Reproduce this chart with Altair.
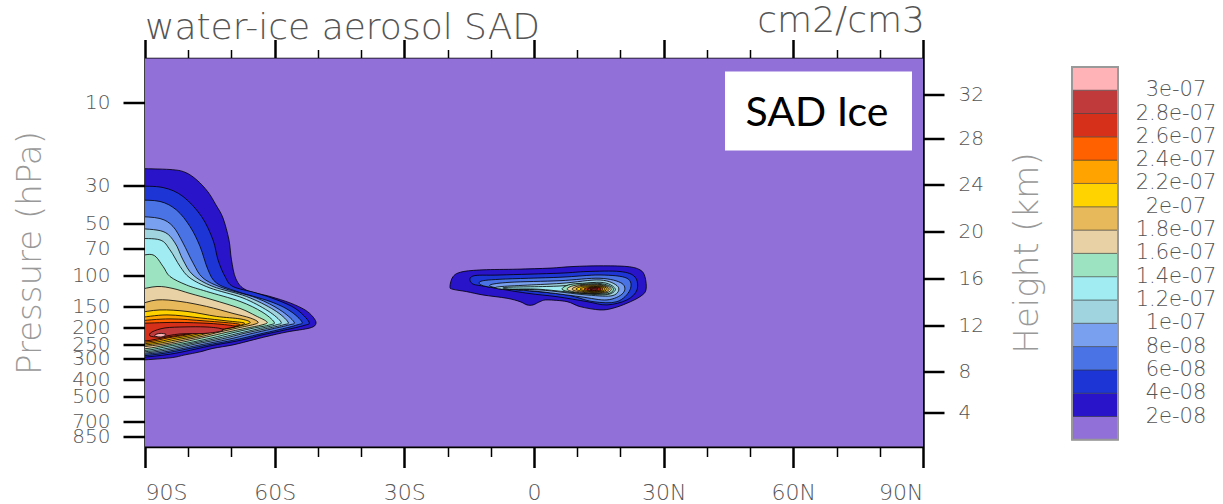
import altair as alt
import pandas as pd

FONT = "DejaVu Sans"
W, H = 778, 388

LAT_TICKS = [-90, -60, -30, 0, 30, 60, 90]
LAT_MINOR = [-80, -70, -50, -40, -20, -10, 10, 20, 40, 50, 70, 80]
P_TICKS = [10, 30, 50, 70, 100, 150, 200, 250, 300, 400, 500, 700, 850]
HEIGHT_KM = [4, 8, 12, 16, 20, 24, 28, 32]
HEIGHT_P = [616.4, 356.5, 194.0, 103.5, 55.29, 29.72, 16.16, 8.89]

LEVEL_LABELS = ["2e-08", "4e-08", "6e-08", "8e-08", "1e-07", "1.2e-07", "1.4e-07",
                "1.6e-07", "1.8e-07", "2e-07", "2.2e-07", "2.4e-07", "2.6e-07",
                "2.8e-07", "3e-07"]
COLORS = ["#9170d8", "#2a14c9", "#1e35d5", "#4a74e6", "#78a0ee", "#a0d5e0", "#a0ecf2",
          "#9be3c1", "#e8d2a5", "#e8b95a", "#ffd300", "#ffa300", "#ff6000", "#d7301a",
          "#c0393b", "#ffb3b6"]

# contour polygons (latitude, pressure hPa) of the south-polar cloud, level 1..15
S1 = [(-95, 24.0), (-92, 24.0), (-84.22, 24.3), (-80.75, 25.2), (-77.97, 28.0), (-75.42, 32.8),
      (-73.57, 39.0), (-71.95, 46.4), (-70.57, 62.1), (-69.99, 81.0), (-68.95, 104.5),
      (-66.63, 120.9), (-61.08, 131.9), (-56.45, 143.7), (-52.98, 157.8), (-51.13, 173.2),
      (-50.44, 188.9), (-51.82, 200.6), (-57.15, 211.6), (-61.77, 224.5), (-65.01, 235.2),
      (-69.64, 251.4), (-74.27, 263.4), (-77.27, 275.9), (-80.75, 287.2), (-84.22, 298.9),
      (-92, 309.0), (-95, 309.0)]
S2 = [(-95, 30.3), (-92, 30.3), (-85.84, 30.9), (-81.21, 34.8), (-76.93, 45.4), (-74.27, 62.1),
      (-73.11, 81.0), (-71.49, 101.1), (-69.64, 115.5), (-64.32, 125.8), (-59.46, 138.1),
      (-55.06, 155.7), (-52.06, 185.2), (-53.21, 194.0), (-57.61, 206.0), (-62.93, 220.1),
      (-68.02, 236.8), (-74.96, 254.8), (-80.75, 274.1), (-85.37, 287.2), (-92, 298.9),
      (-95, 298.9)]
S3 = [(-95, 36.5), (-92, 36.5), (-86.53, 37.2), (-82.71, 41.7), (-79.59, 51.9), (-77.27, 67.7),
      (-75.42, 92.5), (-73.46, 110.2), (-68.83, 123.3), (-61.08, 140.9), (-56.45, 159.9),
      (-53.68, 185.2), (-54.83, 192.7), (-58.77, 204.6), (-63.86, 218.7), (-69.18, 235.2),
      (-76.12, 253.1), (-81.90, 270.5), (-86.53, 283.4), (-92, 293.0), (-95, 293.0)]
S4 = [(-95, 45.4), (-92, 45.4), (-86.53, 46.7), (-83.52, 51.9), (-81.21, 64.6), (-78.89, 84.3),
      (-76.58, 103.1), (-71.95, 117.8), (-64.20, 134.6), (-58.77, 157.8), (-55.53, 185.2),
      (-56.68, 192.7), (-60.62, 203.2), (-65.71, 217.3), (-70.80, 233.7), (-77.27, 251.4),
      (-82.37, 266.9), (-86.99, 279.6), (-92, 287.2), (-95, 287.2)]
S5 = [(-95, 53.3), (-92, 53.3), (-85.84, 55.5), (-83.06, 64.6), (-81.21, 81.0), (-78.89, 99.1),
      (-74.27, 115.5), (-66.52, 131.9), (-60.15, 157.8), (-56.92, 185.2), (-58.07, 192.7),
      (-62.24, 203.2), (-67.10, 215.8), (-72.19, 232.1), (-78.20, 248.1), (-83.06, 263.4),
      (-87.69, 275.9), (-92, 283.4), (-95, 283.4)]
S6 = [(-95, 60.9), (-92, 60.9), (-86.53, 62.1), (-84.22, 70.9), (-81.90, 88.3), (-79.59, 103.1),
      (-74.96, 117.8), (-67.33, 134.6), (-61.54, 159.9), (-58.54, 185.2), (-59.69, 192.7),
      (-63.86, 203.2), (-68.48, 215.8), (-73.34, 230.6), (-79.13, 246.4), (-83.75, 259.9),
      (-88.15, 272.3), (-92, 277.8), (-95, 277.8)]
S7 = [(-95, 77.3), (-92, 77.3), (-88.15, 75.8), (-85.84, 88.3), (-84.22, 101.1), (-80.40, 113.2),
      (-75.77, 123.3), (-68.02, 140.9), (-62.93, 162.1), (-60.15, 185.2), (-61.08, 192.7),
      (-65.24, 201.9), (-69.87, 214.4), (-74.50, 229.1), (-80.05, 244.8), (-84.68, 256.5),
      (-88.84, 268.7), (-92, 272.3), (-95, 272.3)]
S8 = [(-95, 120.9), (-92, 120.9), (-87.22, 115.5), (-83.52, 118.6), (-79.59, 126.7),
      (-74.27, 138.1), (-68.02, 154.6), (-64.32, 170.9), (-61.77, 185.2), (-62.93, 192.7),
      (-66.86, 201.9), (-71.26, 213.0), (-75.66, 226.0), (-80.98, 241.5), (-85.37, 253.1),
      (-89.31, 263.4), (-92, 266.9), (-95, 266.9)]
S9 = [(-95, 147.6), (-92, 147.6), (-87.22, 138.1), (-81.90, 140.9), (-75.77, 150.6),
      (-69.64, 165.3), (-65.71, 175.5), (-63.86, 185.2), (-64.78, 191.4), (-68.48, 200.6),
      (-72.65, 211.6), (-76.81, 224.5), (-81.90, 238.4), (-86.07, 249.7), (-92, 259.9),
      (-95, 259.9)]
S10 = [(-95, 164.2), (-92, 164.2), (-86.53, 157.8), (-80.28, 161.0), (-73.46, 172.0),
       (-68.02, 177.8), (-65.71, 185.2), (-66.63, 191.4), (-70.10, 200.6), (-74.04, 210.2),
       (-77.97, 223.0), (-82.83, 235.2), (-86.99, 246.4), (-92, 254.8), (-95, 254.8)]
S11 = [(-95, 175.5), (-92, 175.5), (-84.91, 168.6), (-77.27, 175.5), (-71.03, 182.7),
       (-67.10, 187.6), (-68.02, 194.0), (-71.49, 201.9), (-75.42, 210.2), (-79.13, 221.6),
       (-83.75, 232.1), (-87.69, 243.2), (-92, 249.7), (-95, 249.7)]
S12 = [(-95, 182.7), (-92, 182.7), (-84.22, 177.8), (-76.12, 182.7), (-68.48, 190.2),
       (-69.41, 196.6), (-72.88, 203.2), (-76.81, 210.2), (-80.28, 220.1), (-84.68, 229.1),
       (-88.38, 239.9), (-92, 244.8), (-95, 244.8)]
S13 = [(-95, 188.9), (-92, 188.9), (-83.06, 186.4), (-74.96, 188.9), (-69.41, 195.3),
       (-70.33, 200.6), (-74.27, 207.4), (-77.97, 213.0), (-81.44, 220.1), (-85.37, 227.5),
       (-88.84, 236.8), (-92, 239.9), (-95, 239.9)]
S14 = [(-88.38, 211.6), (-85.37, 200.6), (-80.75, 197.9), (-76.12, 197.9), (-72.65, 201.9),
       (-72.19, 208.8), (-76.12, 215.8), (-81.90, 217.3), (-86.53, 226.0), (-88.84, 223.0)]
S15 = [(-87.69, 220.1), (-86.53, 215.8), (-85.14, 218.7), (-86.07, 226.0), (-87.45, 224.5)]

# contour polygons of the tropical tropopause cloud, level 1..14
T1 = [(-19.44, 115.8), (-18.74, 101.3), (-16.66, 95.0), (-11.80, 92.5), (-3.93, 91.7),
      (3.70, 90.4), (9.02, 88.5), (15.27, 87.7), (21.51, 88.5), (24.52, 92.5), (25.67, 101.3),
      (25.91, 120.9), (24.52, 132.3), (21.51, 144.3), (18.27, 154.2), (15.27, 157.8),
      (10.64, 151.0), (7.63, 141.3), (3.01, 138.1), (1.39, 141.3), (-0.23, 147.6),
      (-1.62, 147.6), (-3.24, 141.3), (-6.25, 135.1), (-11.80, 129.3), (-15.57, 123.7),
      (-18.74, 119.9)]
T2 = [(-14.11, 100.4), (-7.87, 99.1), (6.01, 96.7), (12.26, 94.6), (19.89, 94.6), (23.36, 101.7),
      (23.82, 120.9), (21.51, 138.1), (16.88, 147.6), (12.26, 141.3), (5.32, 132.3),
      (-1.62, 126.3), (-10.87, 115.8), (-14.34, 110.9)]
T3 = [(-12.49, 108.3), (-7.87, 104.9), (6.01, 102.1), (15.27, 99.1), (21.51, 103.5),
      (22.20, 120.9), (19.20, 141.3), (13.65, 141.3), (7.63, 129.3), (-1.62, 122.0),
      (-10.87, 115.8)]
T4 = [(-10.18, 113.2), (-5.55, 109.2), (6.01, 106.9), (15.27, 103.5), (20.36, 110.9),
      (20.59, 126.3), (16.88, 138.1), (10.64, 132.3), (1.39, 123.7), (-7.87, 118.4)]
T5 = [(-7.87, 115.8), (6.01, 110.9), (15.27, 105.9), (19.43, 115.8), (18.27, 130.2),
      (12.26, 129.3), (1.39, 120.9), (-7.17, 119.9)]
T6 = [(-6.25, 116.8), (6.01, 114.7), (15.27, 109.2), (18.74, 118.4), (17.35, 128.0),
      (12.96, 128.0), (1.39, 119.9), (-5.55, 119.4)]
T7 = [(6.48, 119.4), (9.02, 111.7), (15.27, 111.0), (18.27, 117.8), (17.35, 126.7),
      (13.42, 127.2), (9.02, 125.0)]
T8 = [(7.63, 119.4), (9.94, 113.2), (15.27, 112.4), (17.81, 118.3), (16.88, 125.3),
      (13.42, 126.7), (9.72, 124.7)]
T9 = [(8.79, 119.4), (10.87, 114.0), (15.27, 113.5), (17.35, 118.6), (16.43, 124.5),
      (13.42, 125.8), (10.41, 123.9)]
T10 = [(9.72, 119.4), (11.57, 115.0), (15.27, 114.7), (16.88, 118.9), (15.96, 123.7),
       (13.42, 124.8), (11.10, 123.0)]
T11 = [(10.64, 119.4), (12.26, 116.1), (15.27, 115.8), (16.43, 119.2), (15.73, 122.8),
       (13.42, 123.9), (11.80, 122.3)]
T12 = [(11.57, 119.4), (12.96, 117.0), (15.04, 116.7), (15.96, 119.4), (15.27, 122.2),
       (13.42, 122.8), (12.26, 121.5)]
T13 = [(12.26, 119.7), (13.42, 117.6), (14.81, 117.5), (15.50, 119.4), (14.81, 121.5),
       (13.19, 121.8)]
T14 = [(12.96, 119.7), (13.88, 118.3), (14.81, 119.1), (14.11, 120.9)]

SOUTH = [S1, S2, S3, S4, S5, S6, S7, S8, S9, S10, S11, S12, S13, S14, S15]
TROP = [T1, T2, T3, T4, T5, T6, T7, T8, T9, T10, T11, T12, T13, T14]

XS = alt.Scale(domain=[-90, 90], nice=False, zero=False)
YS = alt.Scale(type="log", domain=[5.536, 973.7], reverse=True, nice=False, zero=False)

one = pd.DataFrame({"a": [0]})
layers = [alt.Chart(one).mark_rect(color=COLORS[0]).encode(
    x=alt.value(0), x2=alt.value(W), y=alt.value(0), y2=alt.value(H))]

for k in range(1, 16):
    rows = []
    shapes = [("S", SOUTH[k - 1])]
    if k <= len(TROP):
        shapes.append(("T", TROP[k - 1]))
    for name, pts in shapes:
        for i, (la, pp) in enumerate(pts):
            rows.append({"shape": name, "i": i, "lat": la, "p": pp})
    df = pd.DataFrame(rows)
    layers.append(
        alt.Chart(df).mark_line(interpolate="cardinal-closed", fill=COLORS[k], stroke="#000",
                                strokeWidth=0.8, clip=True).encode(
            x=alt.X("lat:Q", scale=XS, axis=None),
            y=alt.Y("p:Q", scale=YS, axis=None),
            detail="shape:N",
            order="i:Q",
        )
    )

box = alt.Chart(one).mark_rect(fill="white").encode(
    x=alt.value(580), x2=alt.value(767), y=alt.value(13), y2=alt.value(92))
boxtext = alt.Chart(one).mark_text(text="SAD Ice", font="Lato", fontSize=41, color="black",
                                   align="center", baseline="middle").encode(
    x=alt.value(672), y=alt.value(55))
title1 = alt.Chart(one).mark_text(text="water-ice aerosol SAD", font=FONT, fontSize=36,
                                  fontWeight=200, color="#555", align="left",
                                  baseline="alphabetic").encode(x=alt.value(0), y=alt.value(-20))
title2 = alt.Chart(one).mark_text(text="cm2/cm3", font=FONT, fontSize=36, fontWeight=200,
                                  color="#555", align="right",
                                  baseline="alphabetic").encode(x=alt.value(W + 2), y=alt.value(-27))

LAT_EXPR = "datum.value == 0 ? '0' : (datum.value < 0 ? (-datum.value) + 'S' : datum.value + 'N')"
HEIGHT_EXPR = " : ".join(f"abs(datum.value - {p}) < 0.01 ? '{h}'" for h, p in zip(HEIGHT_KM, HEIGHT_P)) + " : ''"

dummy = pd.DataFrame({"lat": [0], "p": [100]})
common = dict(grid=False, tickColor="black", domainColor="black", labelFont=FONT,
              titleFont=FONT, labelOverlap=False)

ax1 = alt.Chart(dummy).mark_point(opacity=0).encode(
    x=alt.X("lat:Q", scale=XS, axis=alt.Axis(
        orient="bottom", values=LAT_TICKS, labelExpr=LAT_EXPR, tickSize=21, tickWidth=2.5,
        domainWidth=2.5, labelFontSize=22, labelFontWeight=200, labelColor="#555",
        labelPadding=15, title=None, **common)),
    y=alt.Y("p:Q", scale=YS, axis=alt.Axis(
        orient="left", values=P_TICKS, format="d", tickSize=22, tickWidth=2.5,
        domainWidth=2.5, labelFontSize=20, labelFontWeight=200, labelColor="#555",
        labelPadding=13, title="Pressure (hPa)", titleFontSize=34, titleFontWeight=200,
        titleColor="#999", titleX=-115, titleY=H / 2, titleAngle=270,
        titleBaseline="middle", titleAlign="center", **common)),
)
ax2 = alt.Chart(dummy).mark_point(opacity=0).encode(
    x=alt.X("lat:Q", scale=XS, axis=alt.Axis(
        orient="bottom", values=LAT_MINOR, labels=False, tickSize=10, tickWidth=1.5,
        domain=False, title=None, **common)),
    y=alt.Y("p:Q", scale=YS, axis=alt.Axis(
        orient="right", values=HEIGHT_P, labelExpr=HEIGHT_EXPR, tickSize=21, tickWidth=2.5,
        domainWidth=2.5, labelFontSize=20, labelFontWeight=200, labelColor="#555",
        labelPadding=14, title="Height (km)", titleFontSize=34, titleFontWeight=200,
        titleColor="#999", titleX=104, titleY=H / 2, titleAngle=270,
        titleBaseline="middle", titleAlign="center", **common)),
)
ax3 = alt.Chart(dummy).mark_point(opacity=0).encode(
    x=alt.X("lat:Q", scale=XS, axis=alt.Axis(
        orient="top", values=LAT_TICKS, labels=False, tickSize=19, tickWidth=2.5,
        domainWidth=2.5, title=None, **common)),
    y=alt.Y("p:Q", scale=YS, axis=None),
)
ax4 = alt.Chart(dummy).mark_point(opacity=0).encode(
    x=alt.X("lat:Q", scale=XS, axis=alt.Axis(
        orient="top", values=LAT_MINOR, labels=False, tickSize=9, tickWidth=1.5,
        domain=False, title=None, **common)),
    y=alt.Y("p:Q", scale=YS, axis=None),
)

main = alt.layer(*layers, box, boxtext, title1, title2, ax1, ax2, ax3, ax4).resolve_axis(
    x="independent", y="independent").properties(width=W, height=H)

# colour bar
LS = alt.Scale(domain=[-0.287, 16.36], nice=False, zero=False)
leg_df = pd.DataFrame({"i": list(range(len(COLORS))), "i2": list(range(1, len(COLORS) + 1))})
lab_df = pd.DataFrame({"b": list(range(1, len(LEVEL_LABELS) + 1)), "lab": LEVEL_LABELS})
frame_df = pd.DataFrame({"a": [0], "b": [len(COLORS)]})

legrect = alt.Chart(leg_df).mark_rect(stroke="#333", strokeWidth=0.7, strokeOpacity=0.7).encode(
    x=alt.value(0), x2=alt.value(46),
    y=alt.Y("i:Q", scale=LS, axis=None), y2="i2:Q",
    color=alt.Color("i:N", scale=alt.Scale(domain=list(range(len(COLORS))), range=COLORS),
                    legend=None))
legframe = alt.Chart(frame_df).mark_rect(fill="transparent", stroke="#999", strokeWidth=2).encode(
    x=alt.value(0), x2=alt.value(46), y=alt.Y("a:Q", scale=LS, axis=None), y2="b:Q")
leglab = alt.Chart(lab_df).mark_text(align="center", baseline="middle", fontSize=21,
                                     fontWeight=200, color="#555", font=FONT).encode(
    x=alt.value(104), y=alt.Y("b:Q", scale=LS, axis=None), text="lab:N")
legend = alt.layer(legrect, legframe, leglab).properties(width=140, height=H)

chart = alt.hconcat(main, legend, spacing=149, bounds="flush").configure_view(
    strokeWidth=0).properties(padding={"left": 13, "top": 2.5, "right": 0, "bottom": 3},
                              background="white")

chart.save("out.html", embed_options={"renderer": "svg", "actions": False})
